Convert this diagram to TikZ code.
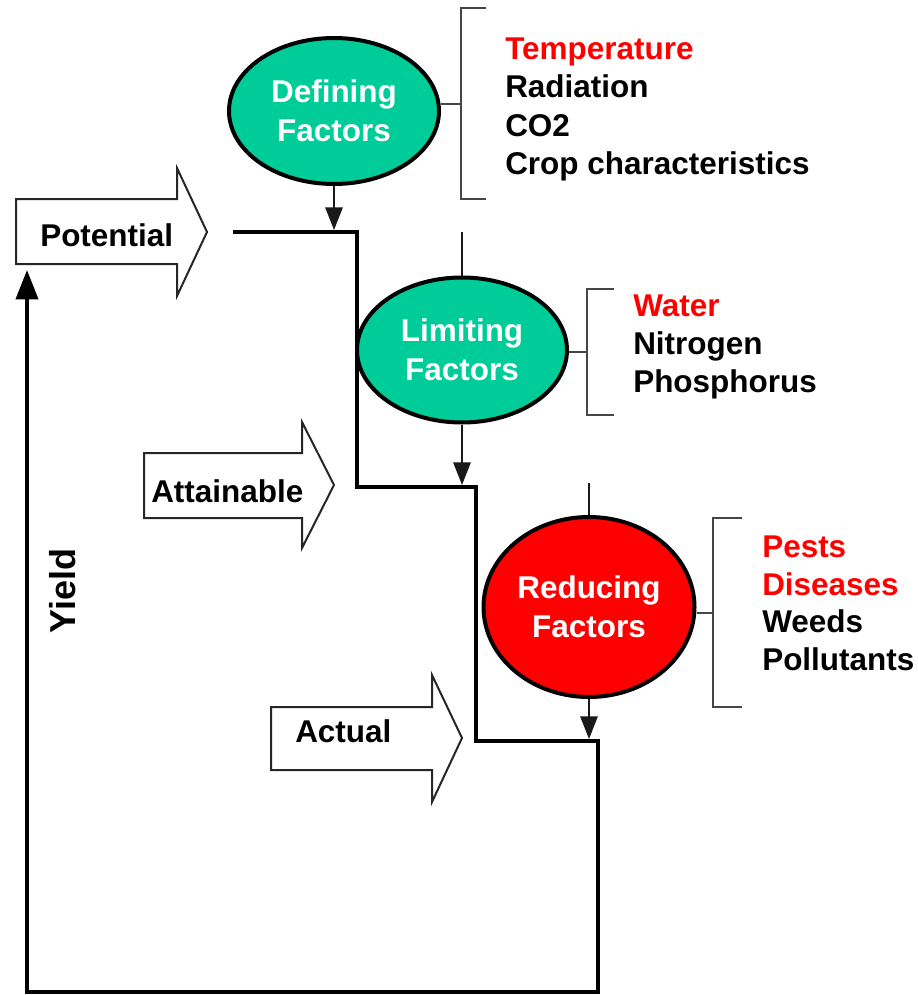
\documentclass[tikz,border=0pt]{standalone}
\usepackage{fontspec}
\setmainfont{Liberation Sans}
\usetikzlibrary{arrows.meta,shapes.geometric}
\definecolor{fgreen}{RGB}{0,204,153}
\definecolor{fred}{RGB}{255,0,0}
\definecolor{brk}{RGB}{70,70,70}
\begin{document}
\begin{tikzpicture}[x=0.75pt,y=-0.75pt,
  lbl/.style={font=\bfseries\fontsize{23.6}{29}\selectfont, inner sep=0pt, anchor=base west},
  factor/.style={ellipse, draw=black, line width=3pt, text=white, align=center, inner sep=0pt,
    font=\bfseries\fontsize{23.6}{29.25}\selectfont},
  stair/.style={line width=3pt, line join=miter},
  thinline/.style={line width=1.5pt, draw=black!90},
  bracket/.style={line width=1.5pt, draw=brk},
  blockarrow/.style={draw=black!85, line width=1.5pt, fill=white, line join=miter},
  tiparrow/.style={-{Triangle[length=17pt,width=13pt]}},
]
\useasboundingbox (0,0) rectangle (917,995);

% ---- block arrows ----
\draw[blockarrow] (16,199) -- (177,199) -- (177,168) -- (207,232) -- (177,296) -- (177,264) -- (16,264) -- cycle;
\draw[blockarrow] (144,453) -- (302,453) -- (302,422) -- (334,485) -- (302,548) -- (302,518) -- (144,518) -- cycle;
\draw[blockarrow] (271,707) -- (432,707) -- (432,675) -- (462,738) -- (432,802) -- (432,770) -- (271,770) -- cycle;
\node[lbl] (potential) at (40,246) {Potential};
\node[lbl] (attainable) at (151,502) {Attainable};
\node[lbl] (actual) at (295,742) {Actual};

% ---- staircase and yield axis ----
\coordinate (p0) at (233,232);
\coordinate (s1) at (357,232);
\coordinate (s2) at (357,487);
\coordinate (s3) at (476,487);
\coordinate (s4) at (476,741);
\coordinate (s5) at (598,741);
\coordinate (s6) at (598,992);
\coordinate (o) at (27,992);
\coordinate (ytop) at (27,270);
\draw[stair, -{Triangle[length=22pt,width=16.5pt]}] (p0) -- (s1) -- (s2) -- (s3) -- (s4) -- (s5) -- (s6) -- (o) -- (ytop);
\node[font=\bfseries\fontsize{27}{32}\selectfont, inner sep=0pt, rotate=90, anchor=base] (yield) at (75,591) {Yield};

% ---- factor ellipses ----
\node[factor, fill=fgreen, minimum width=157.5pt, minimum height=109.5pt] (def) at (334,111) {Defining\\Factors};
\node[factor, fill=fgreen, minimum width=157.5pt, minimum height=108.75pt] (lim) at (462,350) {Limiting\\Factors};
\node[factor, fill=fred, minimum width=158.25pt, minimum height=135pt] (red) at (589,607) {Reducing\\Factors};

% ---- connectors ----
\coordinate (d1) at (334,230);
\draw[thinline, tiparrow] (def.south) -- (d1);
\coordinate (l0) at (462,232);
\coordinate (l1) at (462,485);
\draw[thinline] (l0) -- (lim.north);
\draw[thinline, tiparrow] (lim.south) -- (l1);
\coordinate (r0) at (589,483);
\coordinate (r1) at (589,739);
\draw[thinline] (r0) -- (red.north);
\draw[thinline, tiparrow] (red.south) -- (r1);

% ---- brackets ----
\coordinate (b1m) at (461,104);
\draw[bracket] (486,8) -- (461,8) -- (461,199) -- (486,199);
\draw[bracket] (def.east |- b1m) -- (b1m);
\coordinate (b2m) at (587,352);
\draw[bracket] (614,289) -- (587,289) -- (587,415) -- (614,415);
\draw[bracket] (lim.east |- b2m) -- (b2m);
\coordinate (b3m) at (713,613);
\draw[bracket] (742,518) -- (713,518) -- (713,707) -- (742,707);
\draw[bracket] (red.east |- b3m) -- (b3m);

% ---- factor lists ----
\node[lbl, text=fred] (t1) at (505,60) {Temperature};
\node[lbl] (t2) at (505,98) {Radiation};
\node[lbl] (t3) at (505,137) {CO2};
\node[lbl] (t4) at (505,175) {Crop characteristics};
\node[lbl, text=fred] (w1) at (633,316) {Water};
\node[lbl] (w2) at (633,354) {Nitrogen};
\node[lbl] (w3) at (633,392) {Phosphorus};
\node[lbl, text=fred] (r1t) at (762,557) {Pests};
\node[lbl, text=fred] (r2t) at (762,595) {Diseases};
\node[lbl] (r3t) at (762,632) {Weeds};
\node[lbl] (r4t) at (762,670) {Pollutants};
\end{tikzpicture}
\end{document}
